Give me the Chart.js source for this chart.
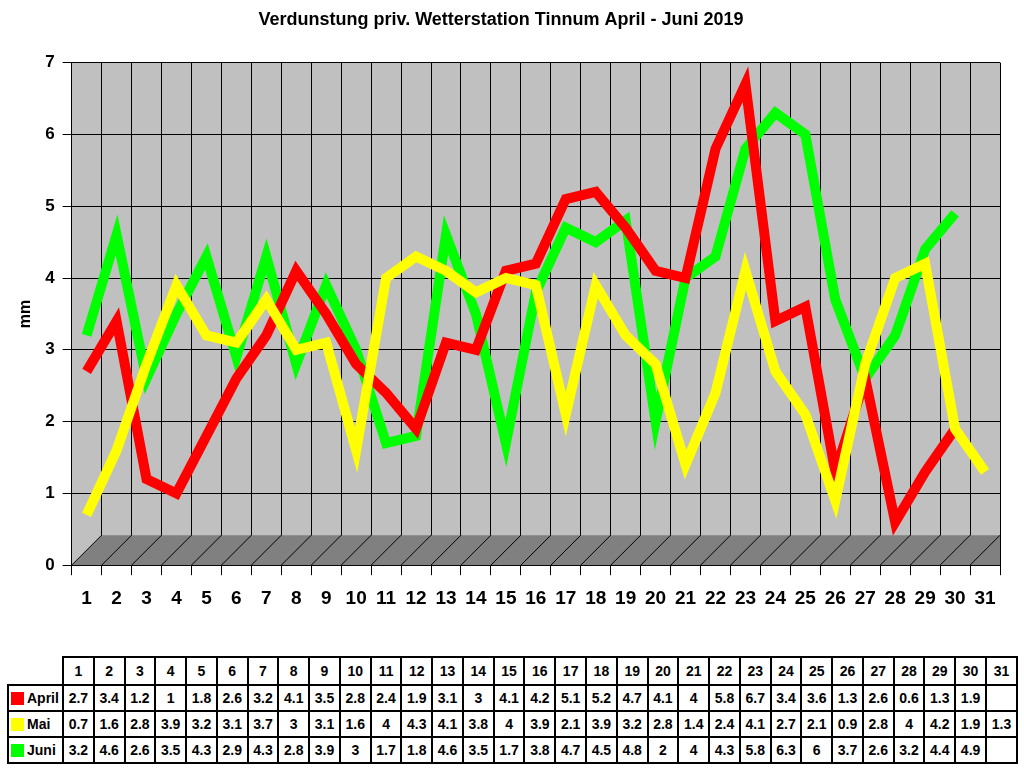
<!DOCTYPE html>
<html>
<head>
<meta charset="utf-8">
<script src="https://cdn.jsdelivr.net/npm/chart.js@4"></script>
<style>
  body { margin: 0; background: #fff; font-family: "Liberation Sans", Arial, sans-serif; }
  #wrap { position: relative; width: 1024px; height: 650px; }
  #tbl { position: absolute; left: 7px; top: 656px; width: 1011px; table-layout: fixed; border-collapse: collapse; font-weight: bold; font-size: 14px; }
  #tbl td { border: 2px solid #000; height: 24px; text-align: center; padding: 0; }
  #tbl tr:first-child td { height: 26px; }
  #tbl td.lab { text-align: left; padding-left: 2px; white-space: nowrap; }
  #tbl td.blank { border: none; border-right: 2px solid #000; border-bottom: 2px solid #000; }
  .sq { display: inline-block; width: 13px; height: 13px; margin-right: 3px; vertical-align: -2px; }
</style>
</head>
<body>
<div id="wrap"><canvas id="charts" width="1024" height="650"></canvas></div>
<table id="tbl"></table>
<script>
const days = ['1','2','3','4','5','6','7','8','9','10','11','12','13','14','15','16','17','18','19','20','21','22','23','24','25','26','27','28','29','30','31'];
const april = [2.7, 3.4, 1.2, 1, 1.8, 2.6, 3.2, 4.1, 3.5, 2.8, 2.4, 1.9, 3.1, 3, 4.1, 4.2, 5.1, 5.2, 4.7, 4.1, 4, 5.8, 6.7, 3.4, 3.6, 1.3, 2.6, 0.6, 1.3, 1.9, null];
const mai = [0.7, 1.6, 2.8, 3.9, 3.2, 3.1, 3.7, 3, 3.1, 1.6, 4, 4.3, 4.1, 3.8, 4, 3.9, 2.1, 3.9, 3.2, 2.8, 1.4, 2.4, 4.1, 2.7, 2.1, 0.9, 2.8, 4, 4.2, 1.9, 1.3];
const juni = [3.2, 4.6, 2.6, 3.5, 4.3, 2.9, 4.3, 2.8, 3.9, 3, 1.7, 1.8, 4.6, 3.5, 1.7, 3.8, 4.7, 4.5, 4.8, 2, 4, 4.3, 5.8, 6.3, 6, 3.7, 2.6, 3.2, 4.4, 4.9, null];
const yTicks = [0, 1, 2, 3, 4, 5, 6, 7];

Chart.defaults.font.family = "'Liberation Sans', Arial, sans-serif";
Chart.defaults.color = '#000';

// grey back wall + dark floor, a flat stand-in for the 3D box
const wallPlugin = {
  id: 'wall',
  beforeDraw(chart) {
    const a = chart.chartArea;
    const ctx = chart.ctx;
    ctx.save();
    ctx.fillStyle = '#C0C0C0';
    ctx.fillRect(a.left, a.top, a.right - a.left, a.bottom - a.top);
    ctx.restore();
  },
  beforeDatasetsDraw(chart) {
    const a = chart.chartArea;
    const ctx = chart.ctx;
    const depth = 30;
    ctx.save();
    ctx.beginPath();
    ctx.rect(a.left, a.top, a.right - a.left, a.bottom - a.top);
    ctx.clip();
    ctx.fillStyle = '#808080';
    ctx.beginPath();
    ctx.moveTo(a.left, a.bottom);
    ctx.lineTo(a.right, a.bottom);
    ctx.lineTo(a.right, a.bottom - depth);
    ctx.lineTo(a.left + depth, a.bottom - depth);
    ctx.closePath();
    ctx.fill();
    const band = (a.right - a.left) / days.length;
    ctx.strokeStyle = '#000';
    ctx.lineWidth = 1;
    for (let i = 0; i <= days.length; i++) {
      const x = a.left + i * band;
      ctx.beginPath();
      ctx.moveTo(x, a.bottom);
      ctx.lineTo(x + depth, a.bottom - depth);
      ctx.stroke();
    }
    ctx.restore();
  }
};

new Chart(
  document.getElementById('charts'),
  {
    type: 'line',
    data: {
      labels: days,
      datasets: [
        {
          label: 'April',
          data: april,
          borderColor: '#FF0000',
          backgroundColor: '#FF0000',
          borderWidth: 10,
          pointRadius: 0,
          order: 2
        },
        {
          label: 'Mai',
          data: mai,
          borderColor: '#FFFF00',
          backgroundColor: '#FFFF00',
          borderWidth: 10,
          pointRadius: 0,
          order: 1
        },
        {
          label: 'Juni',
          data: juni,
          borderColor: '#00FF00',
          backgroundColor: '#00FF00',
          borderWidth: 10,
          pointRadius: 0,
          order: 3
        }
      ]
    },
    options: {
      responsive: false,
      animation: false,
      devicePixelRatio: 1,
      layout: {
        padding: { left: 2, right: 24, bottom: 28 }
      },
      plugins: {
        legend: { display: false },
        tooltip: { enabled: false },
        title: {
          display: true,
          text: 'Verdunstung priv. Wetterstation Tinnum April - Juni 2019',
          font: { size: 18, weight: 'bold' },
          padding: { top: 9, bottom: 32 }
        }
      },
      scales: {
        x: {
          offset: true,
          grid: { offset: true, color: '#000', tickLength: 10, drawTicks: true },
          border: { color: '#000' },
          ticks: { font: { size: 19, weight: 'bold' }, padding: 12, maxRotation: 0, autoSkip: false }
        },
        y: {
          min: 0,
          max: 7,
          afterBuildTicks(scale) {
            scale.ticks = yTicks.map(v => ({ value: v }));
          },
          grid: { color: '#000', tickLength: 9 },
          border: { color: '#000' },
          ticks: { font: { size: 17, weight: 'bold' }, padding: 8 },
          title: { display: true, text: 'mm', font: { size: 16, weight: 'bold' }, padding: { top: 14, bottom: 2 } }
        }
      }
    },
    plugins: [wallPlugin]
  }
);

// data table under the chart, filled from the same arrays
const rows = [
  { name: 'April', color: '#FF0000', values: april },
  { name: 'Mai', color: '#FFFF00', values: mai },
  { name: 'Juni', color: '#00FF00', values: juni }
];
const tbl = document.getElementById('tbl');
let html = '<colgroup><col style="width:55px">';
for (let i = 0; i < days.length; i++) {
  html += '<col>';
}
html += '</colgroup><tr><td class="lab blank"></td>';
for (let i = 0; i < days.length; i++) {
  html += '<td>' + days[i] + '</td>';
}
html += '</tr>';
for (let r = 0; r < rows.length; r++) {
  html += '<tr><td class="lab"><span class="sq" style="background:' + rows[r].color + '"></span>' + rows[r].name + '</td>';
  for (let i = 0; i < days.length; i++) {
    const v = rows[r].values[i];
    html += '<td>' + (v == null ? '' : v) + '</td>';
  }
  html += '</tr>';
}
tbl.innerHTML = html;
</script>
</body>
</html>
